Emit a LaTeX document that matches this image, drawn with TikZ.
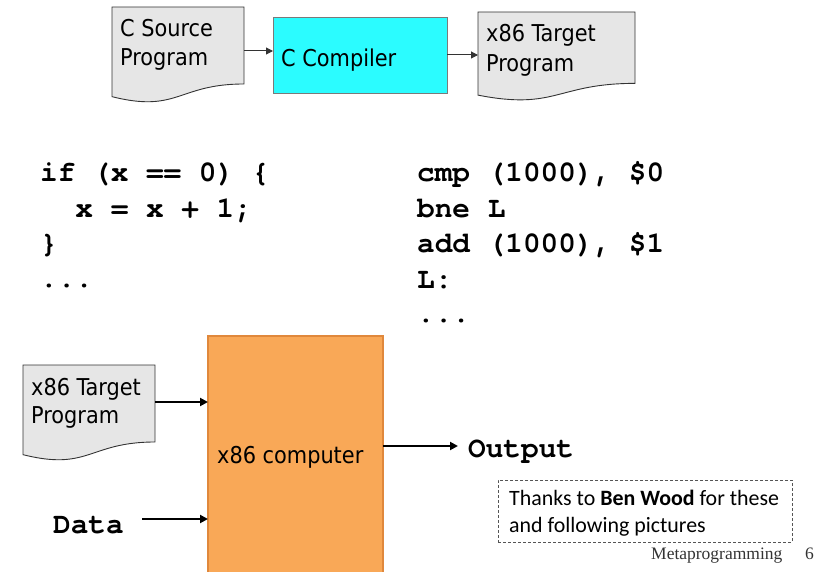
\documentclass[tikz,border=0pt]{standalone}
\usepackage{fontspec}
\setmainfont{Liberation Serif}
\newfontfamily\vfont{DejaVu Sans Condensed}
\newfontfamily\cfont{TeX Gyre Cursor}
\newfontfamily\calfont{Carlito}
\usetikzlibrary{arrows.meta,calc}

\definecolor{docfill}{HTML}{E6E6E6}
\definecolor{docline}{HTML}{333333}
\definecolor{compfill}{HTML}{2BFCFF}
\definecolor{compline}{HTML}{7A7A7A}
\definecolor{cpufill}{HTML}{F9A857}
\definecolor{cpuline}{HTML}{E0883C}
\definecolor{noteline}{HTML}{555555}

% outline of a document shape (flat top, wavy bottom) laid over a node's box
\newcommand\docoutline[2]{%
  \path[#2] let \p1=(#1.north west), \p2=(#1.south east), \n1={(\y1)-(\y2)} in
    (\x1,\y1) -- (\x2,\y1) -- (\x2,{\y1-0.802*\n1})
    .. controls ({0.5*(\x1+\x2)},{\y1-0.802*\n1}) and ({0.5*(\x1+\x2)},{\y1-1.107*\n1}) ..
    (\x1,{\y1-0.934*\n1}) -- cycle;}

\tikzset{
  frame/.style={draw=none, inner sep=0pt, outer sep=0pt, anchor=north west},
  docstyle/.style={fill=docfill, draw=docline, line width=0.9pt},
  lbl/.style={inner sep=0pt, anchor=base west, font=\vfont\fontsize{23.2}{28}\selectfont},
  code/.style={inner sep=0pt, anchor=base west, font=\cfont\bfseries\fontsize{29.4}{35}\selectfont},
  note/.style={inner sep=0pt, anchor=base west, font=\calfont\fontsize{21.9}{26}\selectfont},
  foot/.style={inner sep=0pt, anchor=base west, font=\fontsize{17.5}{20}\selectfont, text=black!80},
  thinarrow/.style={draw=docline, line width=1pt, -{Triangle[length=7pt,width=7pt]}},
  thickarrow/.style={draw=black, line width=2pt, -{Triangle[length=8pt,width=8pt]}},
}

\begin{document}
\begin{tikzpicture}[x=1pt,y=-1pt]
\useasboundingbox (0,0) rectangle (822,572);

% ---- compilation pipeline ----
\node[frame, minimum width=132pt, minimum height=96pt] (src) at (112,7) {};
\docoutline{src}{docstyle}
\node[lbl] (srcA) at (120,36.5) {C Source};
\node[lbl] (srcB) at (120,65.5) {Program};

\node[frame, minimum width=174pt, minimum height=76pt, fill=compfill, draw=compline, line width=1pt] (comp) at (273,18) {};
\node[lbl] (compA) at (281,66.4) {C Compiler};

\node[frame, minimum width=157pt, minimum height=89pt] (tgt) at (478,12) {};
\docoutline{tgt}{docstyle}
\node[lbl] (tgtA) at (486,41.4) {x86 Target};
\node[lbl] (tgtB) at (486,71.4) {Program};

\draw[thinarrow] ([yshift=4pt]src.east) -- ([yshift=4pt]src.east -| comp.west);
\draw[thinarrow] ([yshift=1pt]comp.east) -- ([yshift=1pt]comp.east -| tgt.west);

% ---- source code and its translation ----
\node[code] (cA1) at (40,182)   {if (x == 0) \{};
\node[code] (cA2) at (40,217.5) {\phantom{if}x = x + 1;};
\node[code] (cA3) at (40,253)   {\}};
\node[code] (cA4) at (40,287.5) {...};

\node[code] (cB1) at (417,182)   {cmp (1000), \$0};
\node[code] (cB2) at (417,217.5) {bne L};
\node[code] (cB3) at (417,253)   {add (1000), \$1};
\node[code] (cB4) at (417,288)   {L:};
\node[code] (cB5) at (417,322.5) {...};

% ---- running the target program ----
\node[frame, minimum width=175pt, minimum height=245pt, fill=cpufill, draw=cpuline, line width=2pt] (cpu) at (208,336) {};
\node[lbl] (cpuA) at (217,463) {x86 computer};

\node[frame, minimum width=132pt, minimum height=96pt] (prog) at (23,365) {};
\docoutline{prog}{docstyle}
\node[lbl] (progA) at (31,395.4) {x86 Target};
\node[lbl] (progB) at (31,423.4) {Program};

\node[code] (data) at (53,533) {Data};
\node[code] (out) at (468,457) {Output};

\coordinate (dataTail) at (142,519);
\coordinate (outTip) at (458,446);
\draw[thickarrow] ([yshift=11pt]prog.east) -- ([yshift=11pt]prog.east -| cpu.west);
\draw[thickarrow] (dataTail) -- (dataTail -| cpu.west);
\draw[thickarrow] (cpu.east |- outTip) -- (outTip);

% ---- credit note and footer ----
\node[frame, minimum width=294pt, minimum height=62pt, draw=noteline, line width=0.8pt, dash pattern=on 3pt off 2pt] (thanks) at (498,480) {};
\node[note] (thanksA) at (509,505.5) {Thanks to \textbf{Ben Wood} for these};
\node[note] (thanksB) at (509,532) {and following pictures};

\node[foot] (footA) at (651,559) {Metaprogramming};
\node[foot] (footB) at (805,559) {6};
\end{tikzpicture}
\end{document}
